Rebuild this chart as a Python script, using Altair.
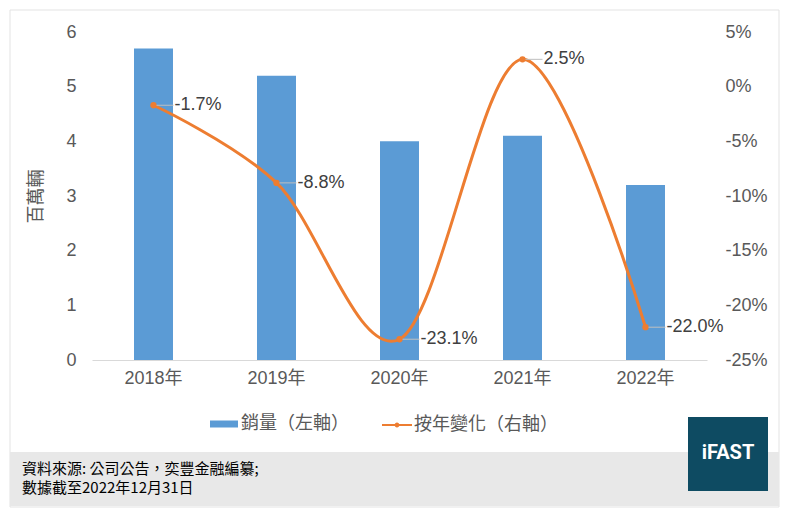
import altair as alt
import pandas as pd

years = ["2018年", "2019年", "2020年", "2021年", "2022年"]
sales = [5.7, 5.2, 4.0, 4.1, 3.2]          # 百萬輛
yoy = [-1.7, -8.8, -23.1, 2.5, -22.0]       # %
left_ticks = [0, 1, 2, 3, 4, 5, 6]
right_ticks = [-25, -20, -15, -10, -5, 0, 5]
series_bar = "銷量（左軸）"
series_line = "按年變化（右軸）"
source_lines = ["資料來源: 公司公告，奕豐金融編纂;", "數據截至2022年12月31日"]
logo_text = "iFAST"

FONT = "Liberation Sans, Noto Sans CJK TC"
CJK = "Noto Sans CJK TC"
BLUE = "#5B9BD5"
ORANGE = "#ED7D31"
GRAY = "#595959"

df = pd.DataFrame({
    "year": years,
    "sales": sales,
    "yoy": [v / 100 for v in yoy],
    "label": [f"{v:.1f}%" for v in yoy],
    "s1": series_bar,
    "s2": series_line,
})
one = pd.DataFrame({"a": [0]})

x_enc = alt.X(
    "year:N", sort=years,
    scale=alt.Scale(paddingInner=0.683, paddingOuter=0.3415),
    axis=alt.Axis(title=None, labelAngle=0, ticks=False, domainColor="#d9d9d9",
                  labelFontSize=18, labelColor=GRAY, labelPadding=9, labelFont=FONT),
)

bars = alt.Chart(df).mark_bar(color=BLUE).encode(
    x=x_enc,
    y=alt.Y("sales:Q", scale=alt.Scale(domain=[0, 6]),
            axis=alt.Axis(values=left_ticks, title="百萬輛", domain=False, ticks=False,
                          grid=False, labelPadding=16, labelFontSize=18, labelColor=GRAY,
                          labelFont=FONT, titleFont=CJK, titleFontSize=18,
                          titleFontWeight="normal", titleColor=GRAY, titlePadding=20)),
    color=alt.Color("s1:N", scale=alt.Scale(range=[BLUE]),
                    legend=alt.Legend(title=None, orient="none", legendX=118, legendY=378,
                                      symbolType="M-1,-0.25H1V0.25H-1Z", symbolSize=784,
                                      symbolStrokeWidth=0, labelFont=CJK, labelFontSize=18,
                                      labelColor=GRAY, padding=0, labelOffset=3)),
)

y_right = alt.Y(
    "yoy:Q", scale=alt.Scale(domain=[-0.25, 0.05]),
    axis=alt.Axis(orient="right", values=[v / 100 for v in right_ticks], title=None,
                  domain=False, ticks=False, grid=False, labelPadding=18,
                  labelFontSize=18, labelColor=GRAY, labelFont=FONT,
                  labelExpr="(datum.value < -0.0001 ? '-' : '') + format(abs(datum.value)*100, '.0f') + '%'"),
)

line = alt.Chart(df).mark_line(interpolate="cardinal", tension=0, color=ORANGE,
                               strokeWidth=3).encode(x=x_enc, y=y_right)
points = alt.Chart(df).mark_point(filled=True, size=40, opacity=1).encode(
    x=x_enc, y=y_right,
    color=alt.Color("s2:N", scale=alt.Scale(range=[ORANGE]),
                    legend=alt.Legend(title=None, orient="none", legendX=290, legendY=378,
                                      symbolType="M-1,-0.07H1V0.07H-1Z M0.16,0A0.16,0.16,0,1,1,-0.16,0A0.16,0.16,0,1,1,0.16,0Z",
                                      symbolSize=900, symbolStrokeWidth=0, labelFont=CJK,
                                      labelFontSize=18, labelColor=GRAY, padding=0,
                                      labelOffset=2)),
)
leaders = alt.Chart(df).mark_rule(color="#bfbfbf", strokeWidth=1, xOffset=3,
                                  x2Offset=20).encode(x=x_enc, x2="year:N", y=y_right)
labels = alt.Chart(df).mark_text(align="left", baseline="middle", dx=21, font=FONT,
                                 fontSize=18, color="#404040").encode(
    x=x_enc, y=y_right, text="label:N")

# frame, footer band and logo
border = alt.Chart(one).mark_rect(fillOpacity=0, stroke="#e3e3e3", strokeWidth=1).encode(
    x=alt.value(-82), x2=alt.value(687), y=alt.value(-22), y2=alt.value(475))
band = alt.Chart(one).mark_rect(fill="#e8e8e8").encode(
    x=alt.value(-82), x2=alt.value(687), y=alt.value(420), y2=alt.value(474))
logo = alt.Chart(one).mark_rect(fill="#0e4b62").encode(
    x=alt.value(596), x2=alt.value(676), y=alt.value(385), y2=alt.value(459))
logo_t = alt.Chart(one).mark_text(font="Roboto", fontWeight="bold", fontSize=20,
                                  color="white", align="center", baseline="middle").encode(
    x=alt.value(636), y=alt.value(421), text=alt.value(logo_text))
src1 = alt.Chart(one).mark_text(font=CJK, fontSize=15, color="#000000", align="left",
                                baseline="middle").encode(
    x=alt.value(-70), y=alt.value(437), text=alt.value(source_lines[0]))
src2 = alt.Chart(one).mark_text(font=CJK, fontSize=15, color="#000000", align="left",
                                baseline="middle").encode(
    x=alt.value(-70), y=alt.value(456), text=alt.value(source_lines[1]))

right_layer = alt.layer(line, points, leaders, labels)

chart = alt.layer(border, band, logo, logo_t, src1, src2, bars, right_layer).resolve_scale(
    y="independent", color="independent"
).properties(
    width=615, height=328,
    autosize=alt.AutoSizeParams(type="none"),
    padding={"left": 84, "top": 24, "right": 73, "bottom": 148},
    background="white",
).configure_view(stroke=None)

chart.save("out.html", embed_options={"renderer": "svg", "actions": False})
